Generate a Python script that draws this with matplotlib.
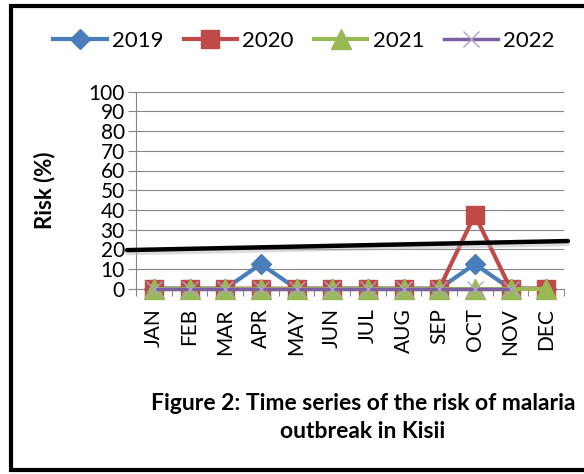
import matplotlib.pyplot as plt
from matplotlib.lines import Line2D

plt.rcParams['font.family'] = ['Lato', 'DejaVu Sans']

months = ['JAN', 'FEB', 'MAR', 'APR', 'MAY', 'JUN', 'JUL', 'AUG', 'SEP', 'OCT', 'NOV', 'DEC']
risk_2019 = [0, 0, 0, 12.5, 0, 0, 0, 0, 0, 12.5, 0, 0]
risk_2020 = [0, 0, 0, 0, 0, 0, 0, 0, 0, 37.5, 0, 0]
risk_2021 = [0, 0, 0, 0, 0, 0, 0, 0, 0, 0, 0, 0]
risk_2022 = [0, 0, 0, 0, 0, 0, 0, 0, 0, 0, 0]
threshold_x = [-0.75, 11.61]
threshold_y = [19.6, 24.2]

W, H = 584, 474
fig = plt.figure(figsize=(W / 100, H / 100), dpi=100)
ax = fig.add_axes([136 / W, 1 - 288.7 / H, (564 - 136) / W, (288.7 - 91.7) / H])

x = list(range(len(months)))
ax.plot(x, risk_2019, color='#4a7ebb', lw=3, marker='D', ms=10, label='2019', clip_on=False, zorder=3)
ax.plot(x, risk_2020, color='#be4b48', lw=3, marker='s', ms=13.5, label='2020', clip_on=False, zorder=4)
ax.plot(x, risk_2021, color='#98b954', lw=3, marker='^', ms=14, label='2021', clip_on=False, zorder=5)
ax.plot(x[:len(risk_2022)], risk_2022, color='#7d60a0', lw=2.5, marker='x', ms=11, mew=1,
        mec='#b3a2c7', label='2022', clip_on=False, zorder=6)

# threshold line drawn over the chart, with a soft shadow
ax.plot(threshold_x, [v - 1.6 for v in threshold_y], color='#bbbbbb', lw=3, alpha=0.5,
        clip_on=False, zorder=7, solid_capstyle='round')
ax.plot(threshold_x, threshold_y, color='black', lw=3.2, clip_on=False, zorder=8,
        solid_capstyle='round')

ax.set_xlim(-0.5, 11.5)
ax.set_ylim(0, 100)
ax.set_yticks(range(0, 101, 10))
ax.set_xticks([i + 0.5 for i in range(-1, 12)], minor=False)
ax.set_xticklabels([])
ax.set_xticks(x, minor=True)
ax.set_xticklabels(months, minor=True, rotation=90, fontsize=15)
ax.tick_params(axis='x', which='minor', length=0, pad=14)
ax.tick_params(axis='x', which='major', length=5, color='#868686', direction='out')
ax.tick_params(axis='y', length=6, color='#868686', labelsize=15, pad=2)
ax.grid(axis='y', color='#868686', lw=0.8)
ax.set_axisbelow(True)
for s in ['top', 'right']:
    ax.spines[s].set_visible(False)
for s in ['left', 'bottom']:
    ax.spines[s].set_color('#868686')
    ax.spines[s].set_linewidth(0.8)

ax.set_ylabel('Risk (%)', fontsize=16, fontweight='bold', labelpad=24)

fig.legend(loc='center', bbox_to_anchor=(304 / W, 1 - 41 / H), ncol=4, frameon=False,
           fontsize=16, handlelength=2.4, handletextpad=0.25, columnspacing=0.9)

fig.text(363 / W, 1 - 403 / H, 'Figure 2: Time series of the risk of malaria', ha='center',
         va='center', fontsize=16.5, fontweight='bold')
fig.text(363 / W, 1 - 432 / H, 'outbreak in Kisii', ha='center', va='center', fontsize=16.5,
         fontweight='bold')

# outer frame (open on the right)
fx = [600 / W, 11 / W, 11 / W, 600 / W]
fy = [1 - 5.5 / H, 1 - 5.5 / H, 1 - 469.5 / H, 1 - 469.5 / H]
fig.add_artist(Line2D(fx, fy, transform=fig.transFigure, color='black', lw=3, solid_joinstyle='miter'))

fig.savefig('out.png', dpi=100)
